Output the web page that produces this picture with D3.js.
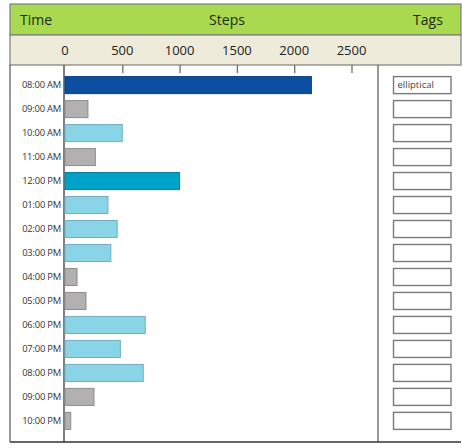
<!DOCTYPE html>
<html>
<head>
<meta charset="utf-8">
<script src="https://cdn.jsdelivr.net/npm/d3@7"></script>
<style>
    body { margin: 0; background: #fff; }
    text { font-family: "Open Sans", sans-serif; }
</style>
</head>
<body>
<svg id="chart" width="462" height="448"></svg>
<script>
// Data
let times = ["08:00 AM", "09:00 AM", "10:00 AM", "11:00 AM", "12:00 PM", "01:00 PM", "02:00 PM",
    "03:00 PM", "04:00 PM", "05:00 PM", "06:00 PM", "07:00 PM", "08:00 PM", "09:00 PM", "10:00 PM"];
let steps = [2150, 200, 500, 265, 1000, 375, 455, 400, 105, 183, 700, 483, 683, 253, 50];
let levels = ["peak", "low", "mid", "low", "high", "mid", "mid", "mid", "low", "low", "mid", "mid", "mid", "low", "low"];
let tags = ["elliptical", "", "", "", "", "", "", "", "", "", "", "", "", "", ""];
let stepTicks = [0, 500, 1000, 1500, 2000, 2500];

let svg = d3.select("#chart");

let frame = {left: 10, right: 461, top: 4, headerBottom: 35, bandBottom: 65, bottom: 442};
let axisX = 65, tagsX = 378;

// Scales
let x = d3.scaleLinear()
    .domain([0, 2500])
    .range([axisX, axisX + 286.5]);
let y = d3.scaleBand()
    .domain(times)
    .range([73, 73 + 24 * times.length])
    .paddingInner(0.29)
    .paddingOuter(0.15);

let fill = d3.scaleOrdinal()
    .domain(["peak", "high", "mid", "low"])
    .range(["#0b4ea2", "#00a2c7", "#89d4e7", "#b3b0b1"]);
let edge = d3.scaleOrdinal()
    .domain(["peak", "high", "mid", "low"])
    .range(["#0a3f80", "#0a7f9c", "#74adbd", "#8e8b8c"]);

// Header bands
svg.append("rect")
    .attr("x", frame.left).attr("y", frame.top)
    .attr("width", frame.right - frame.left).attr("height", frame.headerBottom - frame.top)
    .attr("fill", "#a8d94f")
    .attr("stroke", "#7d7d7d").attr("stroke-width", 1.2);
svg.append("rect")
    .attr("x", frame.left).attr("y", frame.headerBottom)
    .attr("width", frame.right - frame.left).attr("height", frame.bandBottom - frame.headerBottom)
    .attr("fill", "#eeebda")
    .attr("stroke", "#7d7d7d").attr("stroke-width", 1.2);

svg.append("text").text("Time")
    .attr("x", 20).attr("y", 25)
    .attr("font-size", 14).attr("fill", "#1c2a14");
svg.append("text").text("Steps")
    .attr("x", 227).attr("y", 25)
    .attr("text-anchor", "middle")
    .attr("font-size", 14).attr("fill", "#1c2a14");
svg.append("text").text("Tags")
    .attr("x", 428).attr("y", 25)
    .attr("text-anchor", "middle")
    .attr("font-size", 14).attr("fill", "#1c2a14");

// Axis labels in beige band
svg.selectAll(".tick-label")
    .data(stepTicks)
    .join("text")
    .attr("class", "tick-label")
    .attr("x", d => x(d))
    .attr("y", 55)
    .attr("text-anchor", "middle")
    .attr("font-size", 13)
    .attr("fill", "#222")
    .text(d => d);

// Tick marks under band
let xAxis = d3.axisTop(x)
    .tickValues(stepTicks.slice(1))
    .tickSize(-8)
    .tickFormat("");
svg.append("g")
    .attr("transform", `translate(0, ${frame.bandBottom})`)
    .call(xAxis)
    .call(g => g.select(".domain").remove())
    .call(g => g.selectAll("line").attr("stroke", "#6e6e6e").attr("stroke-width", 1.3));

// Frame lines
svg.append("line")
    .attr("x1", frame.left).attr("x2", frame.left)
    .attr("y1", frame.bandBottom).attr("y2", frame.bottom)
    .attr("stroke", "#555").attr("stroke-width", 1.2);
svg.append("line")
    .attr("x1", axisX - 1).attr("x2", axisX - 1)
    .attr("y1", frame.bandBottom).attr("y2", frame.bottom)
    .attr("stroke", "#555").attr("stroke-width", 1.5);
svg.append("line")
    .attr("x1", tagsX).attr("x2", tagsX)
    .attr("y1", frame.bandBottom).attr("y2", frame.bottom)
    .attr("stroke", "#555").attr("stroke-width", 1.2);
svg.append("line")
    .attr("x1", frame.left).attr("x2", frame.right)
    .attr("y1", frame.bottom).attr("y2", frame.bottom)
    .attr("stroke", "#333").attr("stroke-width", 1.3);

// Time labels
svg.selectAll(".time-label")
    .data(times)
    .join("text")
    .attr("class", "time-label")
    .attr("x", 61)
    .attr("y", d => y(d) + y.bandwidth() / 2)
    .attr("dy", "0.35em")
    .attr("text-anchor", "end")
    .attr("font-size", 9.4)
    .attr("letter-spacing", -0.2)
    .attr("fill", "#333")
    .text(d => d);

// Bars
svg.selectAll(".bar")
    .data(steps)
    .join("rect")
    .attr("class", "bar")
    .attr("x", x(0))
    .attr("y", (d, i) => y(times[i]))
    .attr("width", d => x(d) - x(0))
    .attr("height", y.bandwidth())
    .attr("fill", (d, i) => fill(levels[i]))
    .attr("stroke", (d, i) => edge(levels[i]))
    .attr("stroke-width", 1);

// Tag boxes
svg.selectAll(".tag-box")
    .data(tags)
    .join("rect")
    .attr("class", "tag-box")
    .attr("x", 393.5)
    .attr("y", (d, i) => y(times[i]))
    .attr("width", 57.5)
    .attr("height", y.bandwidth())
    .attr("fill", "#fff")
    .attr("stroke", "#7a7a7a")
    .attr("stroke-width", 1.4);
svg.selectAll(".tag-text")
    .data(tags)
    .join("text")
    .attr("class", "tag-text")
    .attr("x", 397.5)
    .attr("y", (d, i) => y(times[i]) + y.bandwidth() / 2)
    .attr("dy", "0.35em")
    .attr("font-size", 9.5)
    .attr("fill", "#444")
    .text(d => d);
</script>
</body>
</html>
